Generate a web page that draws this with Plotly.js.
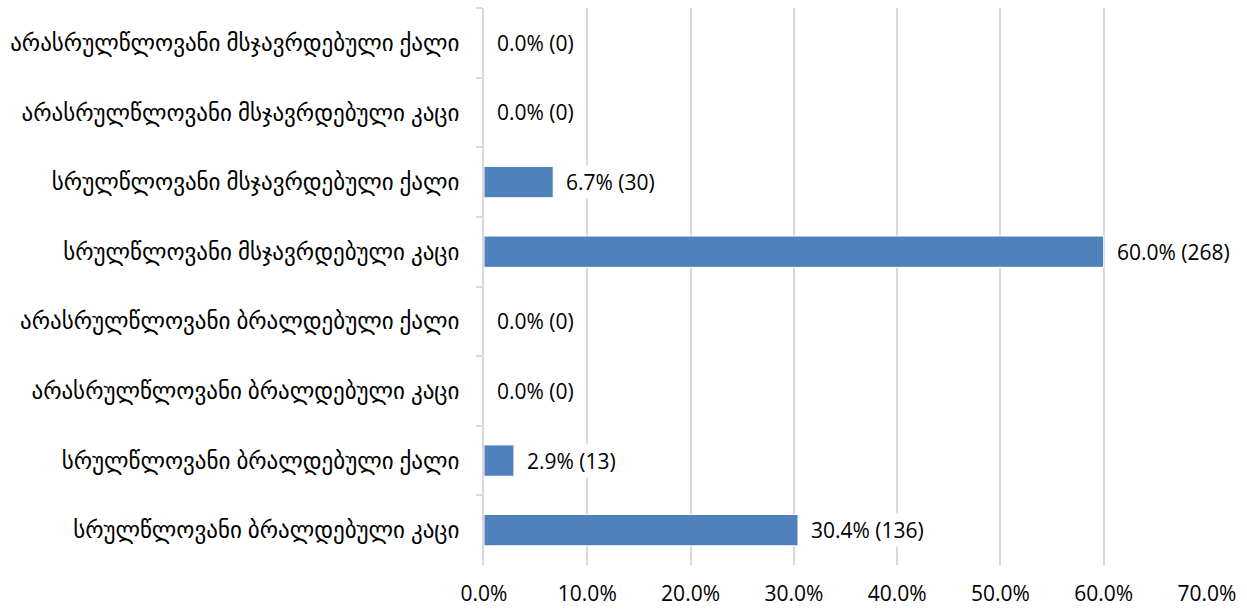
<!DOCTYPE html>
<html>
<head>
<meta charset="utf-8">
<script src="https://cdn.plot.ly/plotly-3.0.1.min.js"></script>
<style>html,body{margin:0;padding:0;background:#fff;}#chart{width:1247px;height:610px;}</style>
</head>
<body>
<div id="chart"></div>
<script>
const categories = [
  "არასრულწლოვანი მსჯავრდებული ქალი",
  "არასრულწლოვანი მსჯავრდებული კაცი",
  "სრულწლოვანი მსჯავრდებული ქალი",
  "სრულწლოვანი მსჯავრდებული კაცი",
  "არასრულწლოვანი ბრალდებული ქალი",
  "არასრულწლოვანი ბრალდებული კაცი",
  "სრულწლოვანი ბრალდებული ქალი",
  "სრულწლოვანი ბრალდებული კაცი"
];
const percents = [0.0, 0.0, 6.7, 60.0, 0.0, 0.0, 2.9, 30.4];
const counts = [0, 0, 30, 268, 0, 0, 13, 136];
const xTicks = [0, 10, 20, 30, 40, 50, 60, 70];

const font = "Open Sans, DejaVu Sans, sans-serif";

const trace = {
  type: 'bar',
  orientation: 'h',
  y: categories,
  x: percents,
  marker: {color: '#4F81BD', line: {color: '#ffffff', width: 1}},
  hoverinfo: 'none'
};

const annotations = categories.map((c, i) => ({
  x: percents[i], y: c, xref: 'x', yref: 'y',
  text: percents[i].toFixed(1) + '% (' + counts[i] + ')',
  showarrow: false, xanchor: 'left', xshift: 10,
  bgcolor: '#ffffff', borderpad: 2,
  font: {family: font, size: 21, color: '#000'}
}));

const layout = {
  width: 1247, height: 610,
  margin: {l: 484, r: 40, t: 8, b: 45},
  paper_bgcolor: '#fff', plot_bgcolor: '#fff',
  showlegend: false,
  bargap: 0.55,
  font: {family: font, color: '#000'},
  xaxis: {
    range: [0, 70], tickvals: xTicks,
    ticktext: xTicks.map(v => v.toFixed(1) + '%'),
    showgrid: true, gridcolor: '#d9d9d9', gridwidth: 2,
    zeroline: false, showline: false, ticks: '',
    ticklabelstandoff: 14,
    tickfont: {family: font, size: 21, color: '#000'}
  },
  yaxis: {
    autorange: 'reversed', type: 'category',
    showline: true, linecolor: '#d9d9d9', linewidth: 2,
    ticks: 'outside', tickson: 'boundaries', ticklen: 6, tickcolor: '#d9d9d9', tickwidth: 2,
    ticklabelstandoff: 18,
    showgrid: false, zeroline: false,
    tickfont: {family: font, size: 23, color: '#000'}
  },
  annotations: annotations
};

Plotly.newPlot('chart', [trace], layout, {displayModeBar: false, staticPlot: true});
</script>
</body>
</html>
